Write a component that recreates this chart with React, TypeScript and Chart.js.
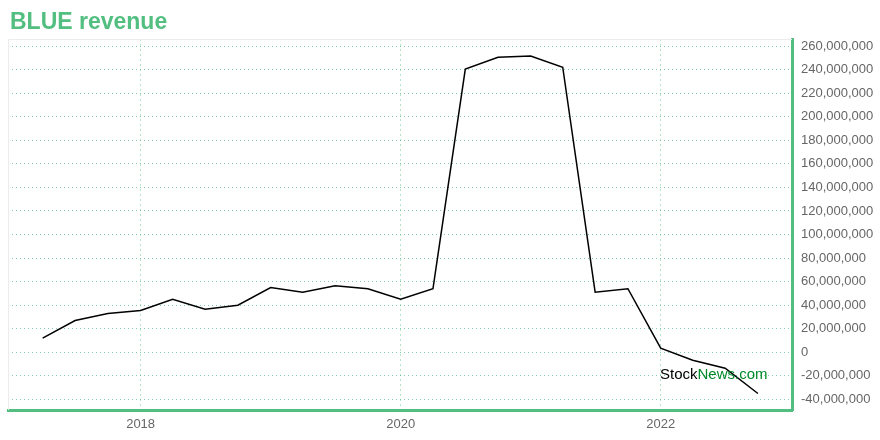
import React, { useEffect, useRef } from "react";
import { Chart, registerables } from "chart.js";

Chart.register(...registerables);

const quarterDates = [
  "2017-03-31", "2017-06-30", "2017-09-30", "2017-12-31",
  "2018-03-31", "2018-06-30", "2018-09-30", "2018-12-31",
  "2019-03-31", "2019-06-30", "2019-09-30", "2019-12-31",
  "2020-03-31", "2020-06-30", "2020-09-30", "2020-12-31",
  "2021-03-31", "2021-06-30", "2021-09-30", "2021-12-31",
  "2022-03-31", "2022-06-30", "2022-09-30",
];

const revenue = [
  12000000, 27000000, 33000000, 35500000,
  45000000, 36500000, 40000000, 55000000,
  51000000, 56500000, 54000000, 45000000,
  54000000, 240500000, 250500000, 251500000,
  242000000, 51000000, 54000000, 3500000,
  -6800000, -13500000, -35000000,
];

const yTicks = [
  -40000000, -20000000, 0, 20000000, 40000000, 60000000, 80000000,
  100000000, 120000000, 140000000, 160000000, 180000000, 200000000,
  220000000, 240000000, 260000000,
];

const xTicks = [2018, 2020, 2022];

const FONT = "'Liberation Sans', Arial, Helvetica, sans-serif";
const GREEN = "#52BE80";

function toDecimalYear(d: string): number {
  const [y, m, day] = d.split("-").map(Number);
  const start = Date.UTC(y, 0, 1);
  const end = Date.UTC(y + 1, 0, 1);
  const t = Date.UTC(y, m - 1, day);
  return y + (t - start) / (end - start) + 1 / 365;
}

const framePlugin = {
  id: "frame",
  beforeDatasetsDraw(chart: any) {
    const { ctx, chartArea } = chart;
    ctx.save();
    ctx.strokeStyle = "#ececec";
    ctx.lineWidth = 1;
    ctx.beginPath();
    ctx.moveTo(chartArea.left + 0.5, chartArea.bottom);
    ctx.lineTo(chartArea.left + 0.5, chartArea.top + 0.5);
    ctx.lineTo(chartArea.right, chartArea.top + 0.5);
    ctx.stroke();
    ctx.restore();
  },
};

export default function App() {
  const canvasRef = useRef<HTMLCanvasElement | null>(null);

  useEffect(() => {
    if (!canvasRef.current) return;
    const points = quarterDates.map((d, i) => ({ x: toDecimalYear(d), y: revenue[i] }));
    const chart = new Chart(canvasRef.current, {
      type: "line",
      data: {
        datasets: [
          {
            data: points,
            borderColor: "#000000",
            borderWidth: 1.5,
            pointRadius: 0,
            tension: 0,
            fill: false,
          },
        ],
      },
      options: {
        animation: false,
        responsive: false,
        devicePixelRatio: 1,
        layout: { padding: { top: 39, left: 8, right: 0, bottom: 0 } },
        plugins: {
          legend: { display: false },
          tooltip: { enabled: false },
          title: { display: false },
        },
        scales: {
          x: {
            type: "linear",
            min: 2016.98,
            max: 2023.01,
            afterBuildTicks: (scale: any) => {
              scale.ticks = xTicks.map((v) => ({ value: v }));
            },
            afterFit: (scale: any) => {
              scale.height = 30;
            },
            ticks: {
              color: "#666666",
              font: { family: FONT, size: 13 },
              padding: 7,
              callback: (v: any) => String(v),
              maxRotation: 0,
            },
            grid: {
              color: "rgba(120, 205, 160, 0.55)",
              drawTicks: false,
              lineWidth: 1,
            },
            border: {
              color: GREEN,
              width: 3,
              dash: [2, 3],
            },
          },
          y: {
            type: "linear",
            position: "right",
            min: -49000000,
            max: 266000000,
            afterBuildTicks: (scale: any) => {
              scale.ticks = yTicks.map((v) => ({ value: v }));
            },
            afterFit: (scale: any) => {
              scale.width = 88;
            },
            ticks: {
              color: "#666666",
              font: { family: FONT, size: 13 },
              padding: 9,
              callback: (v: any) => Number(v).toLocaleString("en-US"),
            },
            grid: {
              color: "rgba(90, 190, 135, 0.75)",
              drawTicks: false,
              lineWidth: 1,
            },
            border: {
              color: GREEN,
              width: 3,
              dash: [1, 3],
            },
          },
        },
      },
      plugins: [framePlugin],
    });
    return () => chart.destroy();
  }, []);

  return (
    <div style={{ position: "fixed", left: 0, top: 0, width: 880, height: 440, background: "#ffffff" }}>
      <canvas ref={canvasRef} width={880} height={440} style={{ position: "absolute", left: 0, top: 0 }} />
      <div
        style={{
          position: "absolute",
          left: 10,
          top: 10,
          fontFamily: FONT,
          fontWeight: "bold",
          fontSize: 23,
          lineHeight: "23px",
          color: GREEN,
          whiteSpace: "nowrap",
        }}
      >
        BLUE revenue
      </div>
      <div
        style={{
          position: "absolute",
          left: 660,
          top: 365,
          fontFamily: FONT,
          fontSize: 15,
          lineHeight: "17px",
          whiteSpace: "nowrap",
        }}
      >
        <span style={{ color: "#000000" }}>Stock</span>
        <span style={{ color: "#008a2a" }}>News.com</span>
      </div>
    </div>
  );
}
